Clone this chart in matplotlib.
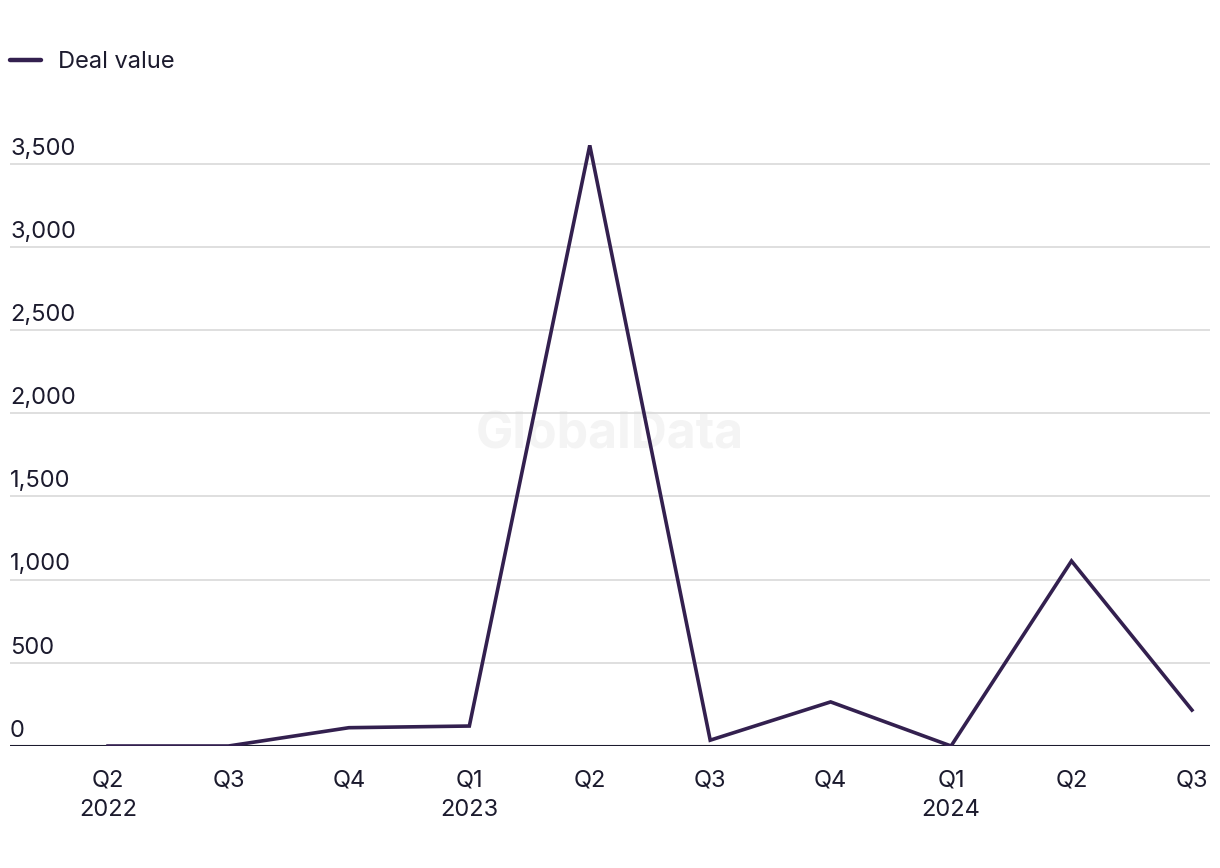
import matplotlib
matplotlib.use("Agg")
import matplotlib.pyplot as plt
from matplotlib.lines import Line2D

quarters = ["Q2\n2022", "Q3", "Q4", "Q1\n2023", "Q2", "Q3", "Q4", "Q1\n2024", "Q2", "Q3"]
deal_value = [0, 0, 110, 120, 3610, 35, 265, 0, 1112, 216]
y_ticks = [0, 500, 1000, 1500, 2000, 2500, 3000, 3500]

plt.rcParams['font.family'] = ['Inter', 'DejaVu Sans']
text_color = '#1c1b2e'
line_color = '#33204f'

fig = plt.figure(figsize=(12.2, 8.68), dpi=100)
ax = fig.add_axes([10/1220, (868-746)/868, 1200/1220, (746-130.4)/868])

x = list(range(len(quarters)))
ax.plot(x, deal_value, color=line_color, lw=2.6, solid_joinstyle='miter', zorder=3)

ax.set_xlim(-0.814, 9.15)
ax.set_ylim(0, 3700)

for t in y_ticks:
    if t > 0:
        ax.axhline(t, color='#d9d9d9', lw=1.2, zorder=1)
    ax.text(0, t + 25, f"{t:,}", transform=ax.get_yaxis_transform(), ha='left', va='bottom',
            fontsize=17, color=text_color)

ax.axhline(0, color=text_color, lw=1.5, zorder=2)

ax.set_yticks([])
ax.set_xticks(x)
ax.set_xticklabels(quarters, fontsize=17, color=text_color, linespacing=1.45)
ax.tick_params(axis='x', length=0, pad=17)
for s in ax.spines.values():
    s.set_visible(False)

ax.text(0.5, 1 - 435/868, "GlobalData", transform=fig.transFigure, ha='center', va='center',
        fontsize=36, fontweight='bold', color='#f4f4f4', zorder=0)

fig.legend(handles=[Line2D([0], [0], color=line_color, lw=3.2, solid_capstyle='round')],
           labels=["Deal value"],
           loc='center left', bbox_to_anchor=(10/1220, 1 - 62/868), frameon=False,
           fontsize=17, handlelength=1.3, handletextpad=0.75, borderaxespad=0.0,
           labelcolor=text_color, borderpad=0.0)

fig.savefig("out.png", dpi=100, facecolor='white')
